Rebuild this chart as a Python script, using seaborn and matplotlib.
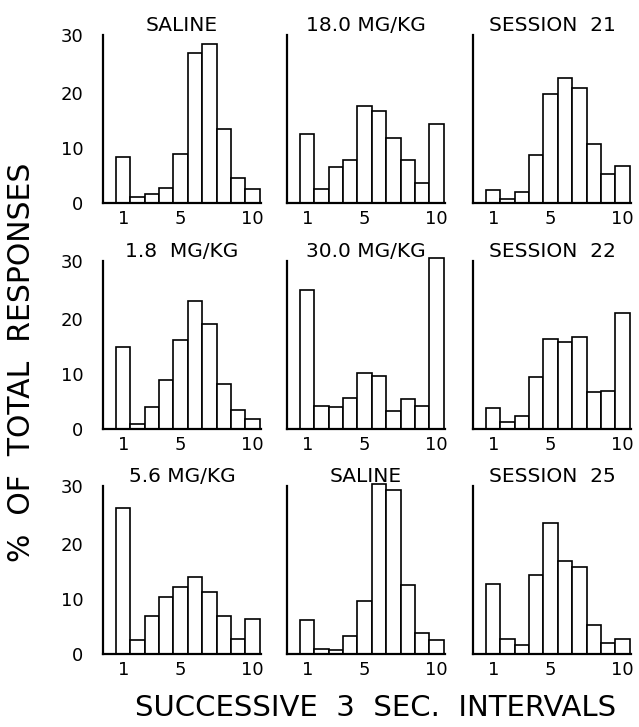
import matplotlib
matplotlib.use("Agg")
import matplotlib.pyplot as plt
import seaborn as sns
import pandas as pd

intervals = [str(i) for i in range(1, 11)]

saline_top = [8.4, 1.1, 1.7, 2.8, 9.0, 27.3, 28.9, 13.5, 4.6, 2.5]
dose_18_0 = [12.6, 2.5, 6.5, 7.9, 17.7, 16.7, 11.8, 7.9, 3.6, 14.4]
session_21 = [2.4, 0.7, 2.0, 8.7, 19.8, 22.7, 20.9, 10.8, 5.3, 6.8]
dose_1_8 = [14.9, 1.0, 4.0, 9.0, 16.1, 23.2, 19.1, 8.1, 3.5, 1.9]
dose_30_0 = [25.2, 4.2, 4.0, 5.7, 10.2, 9.7, 3.2, 5.5, 4.2, 31.1]
session_22 = [3.9, 1.2, 2.3, 9.5, 16.3, 15.8, 16.7, 6.7, 6.9, 21.1]
dose_5_6 = [26.6, 2.5, 7.0, 10.3, 12.1, 14.0, 11.3, 6.9, 2.8, 6.3]
saline_bottom = [6.1, 0.9, 0.7, 3.3, 9.6, 31.0, 29.9, 12.6, 3.9, 2.6]
session_25 = [12.8, 2.8, 1.7, 14.3, 23.9, 17.0, 15.8, 5.2, 2.0, 2.8]

panel_titles = ["SALINE", "18.0 MG/KG", "SESSION  21",
                "1.8  MG/KG", "30.0 MG/KG", "SESSION  22",
                "5.6 MG/KG", "SALINE", "SESSION  25"]
panel_values = [saline_top, dose_18_0, session_21,
                dose_1_8, dose_30_0, session_22,
                dose_5_6, saline_bottom, session_25]

sns.set_style("white")
plt.rcParams["font.family"] = ["DejaVu Sans"]
plt.rcParams["text.color"] = "black"
plt.rcParams["xtick.color"] = "black"
plt.rcParams["ytick.color"] = "black"

fig = plt.figure(figsize=(6.39, 7.27), dpi=100)

W, H = 639, 727
col_left = [103, 287, 473]
row_bottom = [203, 429, 654]
ax_w = 158
ax_h = 176

for k, (title, vals) in enumerate(zip(panel_titles, panel_values)):
    r, c = divmod(k, 3)
    ax = fig.add_axes([col_left[c] / W, 1 - row_bottom[r] / H, ax_w / W, ax_h / H])
    df = pd.DataFrame({"interval": intervals, "pct": vals})
    sns.barplot(data=df, x="interval", y="pct", ax=ax, color="white",
                edgecolor="black", linewidth=1.2, width=1.0, saturation=1)
    ax.set_xlim(-1.41, 9.6)
    ax.set_ylim(0, 32)
    for s in ["top", "right"]:
        ax.spines[s].set_visible(False)
    ax.spines["left"].set_bounds(0, 30.5)
    ax.spines["left"].set_linewidth(1.6)
    ax.spines["bottom"].set_linewidth(1.6)
    ax.spines["left"].set_color("black")
    ax.spines["bottom"].set_color("black")
    ax.set_yticks([0, 10, 20, 30.5])
    ax.tick_params(axis="y", direction="in", length=4, width=1.5, pad=14)
    if c == 0:
        ax.set_yticklabels(["0", "10", "20", "30"], fontsize=13)
    else:
        ax.set_yticklabels([])
    ax.set_xticks([0, 4, 9])
    ax.set_xticklabels(["1", "5", "10"], fontsize=13)
    ax.tick_params(axis="x", length=0, pad=5)
    ax.set_xlabel("")
    ax.set_ylabel("")
    ax.text(0.5, 1.01, title, transform=ax.transAxes, ha="center", va="center",
            fontsize=14.5)

fig.text(22 / W, 1 - 362 / H, "%  OF  TOTAL  RESPONSES", rotation=90, ha="center",
         va="center", fontsize=21.5)
fig.text(376 / W, 1 - 708 / H, "SUCCESSIVE  3  SEC.  INTERVALS", ha="center",
         va="center", fontsize=21)

fig.savefig("out.png", dpi=100, facecolor="white")
